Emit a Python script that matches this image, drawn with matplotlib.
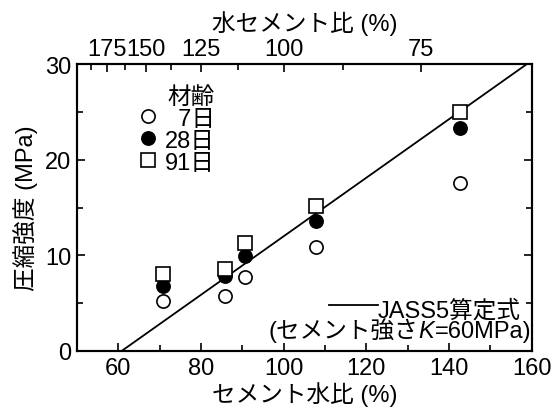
import matplotlib
matplotlib.use("Agg")
import matplotlib.pyplot as plt
from matplotlib.lines import Line2D
import numpy as np

plt.rcParams['font.family'] = ['Liberation Sans', 'Noto Sans CJK JP', 'DejaVu Sans']

# data
cw_ratio = [70.9, 85.8, 90.7, 107.8, 142.7]      # セメント水比 (%)
fc_7d = [5.2, 5.7, 7.7, 10.9, 17.6]
fc_28d = [6.8, 7.8, 9.9, 13.6, 23.3]
fc_91d = [8.1, 8.6, 11.3, 15.2, 25.0]
ages = ['\u20077日', '28日', '91日']
jass_cw = [60.8, 160.0]
jass_fc = [0.0, 30.36]
wc_major = [175, 150, 125, 100, 75]
wc_minor = [187.5, 162.5, 137.5, 112.5, 87.5, 62.5]

FS = 17

fig = plt.figure(figsize=(5.52, 4.10), dpi=100)
ax = fig.add_axes([0.1395, 0.1415, 0.8235, 0.6995])

ax.plot(jass_cw, jass_fc, color='black', lw=1.3, zorder=2)
ms = 9.5
h1, = ax.plot(cw_ratio, fc_7d, 'o', ms=ms, mfc='white', mec='black', mew=1.2, ls='none', zorder=3)
h2, = ax.plot(cw_ratio, fc_28d, 'o', ms=ms, mfc='black', mec='black', mew=1.2, ls='none', zorder=3)
h3, = ax.plot(cw_ratio, fc_91d, 's', ms=ms, mfc='white', mec='black', mew=1.2, ls='none', zorder=4)

ax.set_xlim(50, 160)
ax.set_ylim(0, 30)
ax.set_xticks([60, 80, 100, 120, 140, 160])
ax.set_xticks(np.arange(50, 161, 10), minor=True)
ax.set_yticks([0, 10, 20, 30])
ax.set_yticks(np.arange(0, 31, 5), minor=True)
ax.tick_params(which='both', direction='in', top=False, right=True, labelsize=FS, width=1.2)
ax.tick_params(which='major', length=6, pad=4)
ax.tick_params(which='minor', length=4)
for s in ax.spines.values():
    s.set_linewidth(1.5)

ax.set_xlabel('セメント水比 (%)', fontsize=FS, labelpad=2)
ax.set_ylabel('圧縮強度 (MPa)', fontsize=FS, labelpad=5)

# top axis: water-cement ratio
ax2 = ax.twiny()
ax2.set_xlim(ax.get_xlim())
ax2.set_xticks([10000.0 / w for w in wc_major])
ax2.set_xticklabels([str(w) for w in wc_major])
ax2.set_xticks([10000.0 / w for w in wc_minor], minor=True)
ax2.tick_params(which='both', direction='in', labelsize=FS, width=1.2)
ax2.tick_params(which='major', length=6, pad=3)
ax2.tick_params(which='minor', length=4)
ax2.set_xlabel('水セメント比 (%)', fontsize=FS, labelpad=6)
for s in ax2.spines.values():
    s.set_linewidth(1.5)

leg = ax.legend([h1, h2, h3], ages, loc='upper left', bbox_to_anchor=(0.1, 0.975),
                frameon=False, title='材齢', fontsize=FS, title_fontsize=FS,
                handletextpad=0.2, labelspacing=0.0, borderpad=0.1, handlelength=1.0,
                alignment='right')

# JASS5 annotation
t0 = ax.text(0.975, 0.143, 'JASS5算定式', transform=ax.transAxes, ha='right', va='center', fontsize=FS)
t3 = ax.text(0.999, 0.068, '=60MPa)', transform=ax.transAxes, ha='right', va='center', fontsize=FS)
t2 = ax.annotate('K', xy=(0, 0), xycoords=t3, ha='right', va='bottom', fontsize=FS, style='italic')
t1 = ax.annotate('(セメント強さ', xy=(0, 0), xycoords=t2, ha='right', va='bottom', fontsize=FS)
fig.canvas.draw()
bb = t0.get_window_extent().transformed(ax.transAxes.inverted())
ax.add_line(Line2D([bb.x0 - 0.105, bb.x0 + 0.002], [0.16, 0.16], transform=ax.transAxes,
                   color='black', lw=1.3))

fig.savefig('out.png', dpi=100)
